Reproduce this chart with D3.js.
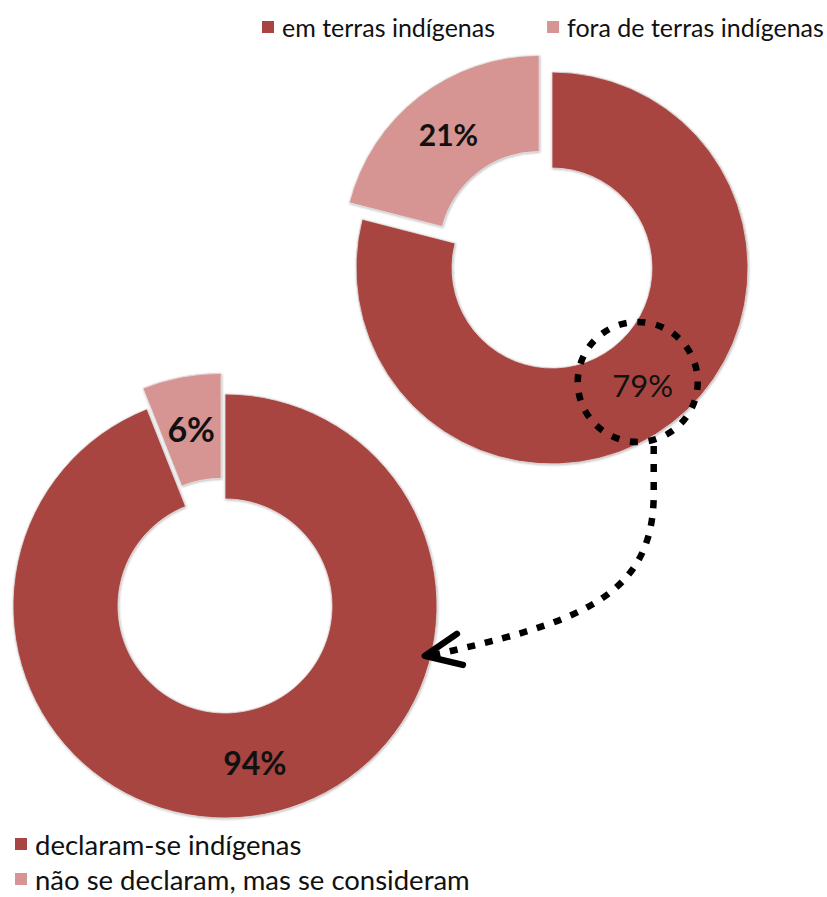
<!DOCTYPE html>
<html>
<head>
<meta charset="utf-8">
<script src="https://cdn.jsdelivr.net/npm/d3@7"></script>
<style>
  html, body { margin: 0; padding: 0; background: #fff; }
  svg { display: block; }
  text { font-family: Lato, "Open Sans", sans-serif; }
</style>
</head>
<body>
<svg id="chart" width="827" height="897"></svg>
<script>
// Where people live (upper donut)
const topCategories = ["em terras indígenas", "fora de terras indígenas"];
const topValues = [79, 21];
const topLabels = ["79%", "21%"];

// How people identify (lower donut)
const bottomCategories = ["declaram-se indígenas", "não se declaram, mas se consideram"];
const bottomValues = [94, 6];
const bottomLabels = ["94%", "6%"];

const sliceColors = ["#A84441", "#D69493"];

const svg = d3.select("#chart");

// soft grey halo around the slices
const defs = svg.append("defs");
const f = defs.append("filter").attr("id", "halo")
  .attr("x", "-10%").attr("y", "-10%").attr("width", "120%").attr("height", "120%");
f.append("feDropShadow").attr("dx", 0.6).attr("dy", 0.8)
  .attr("stdDeviation", 1.2).attr("flood-color", "#7a7a7a").attr("flood-opacity", 0.55);

const pie = d3.pie().sort(null).startAngle(0).endAngle(2 * Math.PI);

function donut(cfg) {
  const { cx, cy, outer, inner, values, labels, explode, labelWeights, labelSize } = cfg;
  const arcs = pie(values);
  const arc = d3.arc().innerRadius(inner).outerRadius(outer);
  const g = svg.append("g").attr("transform", `translate(${cx},${cy})`);
  const shift = (d, i) => {
    const e = explode[i];
    const a = (d.startAngle + d.endAngle) / 2;
    return [Math.sin(a) * e, -Math.cos(a) * e];
  };
  g.selectAll("path.slice").data(arcs).join("path")
    .attr("class", "slice")
    .attr("d", arc)
    .attr("transform", (d, i) => { const s = shift(d, i); return `translate(${s[0]},${s[1]})`; })
    .attr("fill", (d, i) => sliceColors[i])
    .attr("stroke", "#e4e4e4").attr("stroke-width", 0.8)
    .attr("filter", "url(#halo)");
  g.selectAll("text.val").data(arcs).join("text")
    .attr("class", "val")
    .attr("x", (d, i) => arc.centroid(d)[0] + shift(d, i)[0])
    .attr("y", (d, i) => arc.centroid(d)[1] + shift(d, i)[1])
    .attr("text-anchor", "middle")
    .attr("dominant-baseline", "central")
    .attr("font-size", (d, i) => labelSize[i])
    .attr("font-weight", (d, i) => labelWeights[i])
    .attr("fill", "#111")
    .text((d, i) => labels[i]);
  return { g, arcs, arc, cx, cy, outer, inner };
}

// lower donut first so the upper one sits on top
const lower = donut({
  cx: 225, cy: 606, outer: 212, inner: 107,
  values: bottomValues, labels: bottomLabels, explode: [0, 21],
  labelWeights: ["bold", "bold"], labelSize: [32, 34]
});
const upper = donut({
  cx: 552, cy: 268, outer: 196, inner: 100,
  values: topValues, labels: topLabels, explode: [0, 21],
  labelWeights: ["normal", "bold"], labelSize: [31, 30]
});

// Dotted ring around the 79% share and a dotted arrow into the lower donut
const hi = upper.arc.centroid(upper.arcs[0]);
const ringC = [upper.cx + hi[0] - 5, upper.cy + hi[1] - 3];
const ringR = 60;
const ann = svg.append("g").attr("fill", "none").attr("stroke", "#000");
ann.append("circle")
  .attr("cx", ringC[0]).attr("cy", ringC[1]).attr("r", ringR)
  .attr("stroke-width", 6.5).attr("stroke-dasharray", "8 10.8");

// arrow tip on the lower donut's outer rim
const tipAng = 104 * Math.PI / 180;
const tip = [lower.cx + Math.sin(tipAng) * 206, lower.cy - Math.cos(tipAng) * 206];
const start = [ringC[0] + 16, ringC[1] + ringR + 4];
const p = d3.path();
p.moveTo(start[0], start[1]);
p.lineTo(start[0], start[1] + 50);
p.bezierCurveTo(start[0] - 1, start[1] + 155, start[0] - 83, start[1] + 178, tip[0] + 5, tip[1]);
ann.append("path").attr("d", p.toString())
  .attr("stroke-width", 6.5).attr("stroke-dasharray", "8 10");

const head = d3.path();
head.moveTo(tip[0] + 32, tip[1] - 22);
head.lineTo(tip[0], tip[1]);
head.lineTo(tip[0] + 38, tip[1] + 9);
ann.append("path").attr("d", head.toString())
  .attr("stroke-width", 6.5).attr("stroke-linecap", "round").attr("stroke-linejoin", "round");

// Legends
function legend(items, colors, x0, y0, size, sq, horizontal, gapX, gapY) {
  const g = svg.append("g");
  let x = x0, y = y0;
  items.forEach((t, i) => {
    g.append("rect").attr("x", x).attr("y", y - sq / 2).attr("width", sq).attr("height", sq)
      .attr("fill", colors[i]);
    const tx = g.append("text").attr("x", x + sq + 8).attr("y", y)
      .attr("dominant-baseline", "central").attr("font-size", size).attr("fill", "#111")
      .text(t);
    if (horizontal) x = x + sq + 8 + tx.node().getComputedTextLength() + gapX;
    else y += gapY;
  });
}
legend(topCategories, sliceColors, 262, 27, 25, 12, true, 52, 0);
legend(bottomCategories, sliceColors, 15, 844, 27.5, 12, false, 0, 35);
</script>
</body>
</html>
